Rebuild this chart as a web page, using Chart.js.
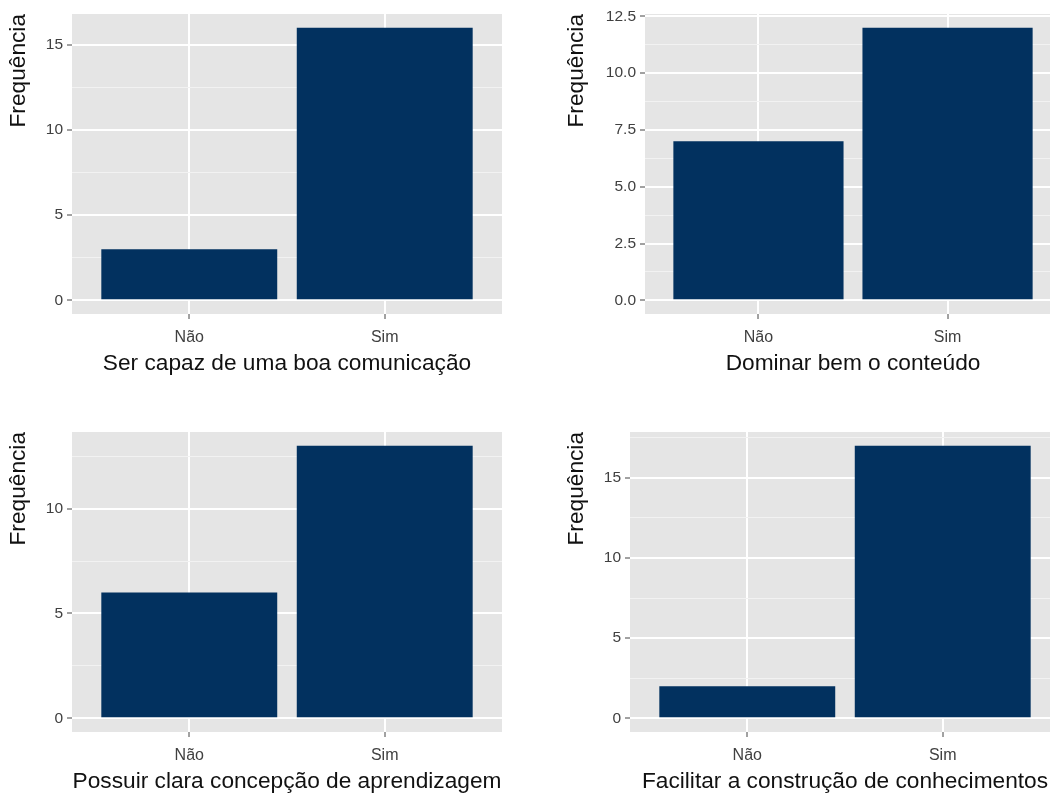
<!DOCTYPE html>
<html>
<head>
<meta charset="utf-8">
<script src="https://cdn.jsdelivr.net/npm/chart.js@4.4.0/dist/chart.umd.min.js"></script>
<style>
  html, body { margin: 0; padding: 0; background: #fff; overflow: hidden; width: 1050px; height: 794px; }
  canvas { position: absolute; }
</style>
</head>
<body>
<canvas id="c1" width="525" height="395" style="left:0px;top:0px"></canvas>
<canvas id="c2" width="525" height="395" style="left:558px;top:0px"></canvas>
<canvas id="c3" width="525" height="395" style="left:0px;top:418px"></canvas>
<canvas id="c4" width="525" height="395" style="left:558px;top:418px"></canvas>
<script>
const categorias = ['Não', 'Sim'];

const tituloComunicacao = 'Ser capaz de uma boa comunicação';
const tituloConteudo = 'Dominar bem o conteúdo';
const tituloConcepcao = 'Possuir clara concepção de aprendizagem';
const tituloConhecimentos = 'Facilitar a construção de conhecimentos';

const freqComunicacao = [3, 16];
const freqConteudo = [7, 12];
const freqConcepcao = [6, 13];
const freqConhecimentos = [2, 17];

const ticksComunicacao = [0, 5, 10, 15];
const ticksConteudo = [0, 2.5, 5, 7.5, 10, 12.5];
const ticksConcepcao = [0, 5, 10];
const ticksConhecimentos = [0, 5, 10, 15];

const fonte = "Arial, 'Liberation Sans', sans-serif";

// fundo cinza do painel (estilo ggplot)
const fundo = {
    id: 'fundo',
    beforeDraw(chart) {
        const {ctx, chartArea: a} = chart;
        ctx.save();
        ctx.fillStyle = '#e5e5e5';
        ctx.fillRect(a.left, a.top, a.right - a.left, a.bottom - a.top);
        ctx.restore();
    }
};

function painel(id, valores, ticks, titulo, larguraY, dirPad) {
    const maximo = Math.max(...valores);
    const yMin = -0.05 * maximo;
    const yMax = 1.05 * maximo;
    const passo = ticks[1] - ticks[0];
    const decimais = ticks.some(t => t % 1 !== 0) ? 1 : 0;

    // linhas secundarias no meio das principais
    let todos = ticks.map(t => ({value: t, minor: false}));
    for (let v = ticks[0] - passo / 2; v <= ticks[ticks.length - 1] + passo / 2; v += passo) {
        if (v > yMin && v < yMax) todos.push({value: v, minor: true});
    }
    todos.sort((a, b) => a.value - b.value);

    const pontos = valores.map((v, i) => ({x: i + 1, y: v}));

    new Chart(document.getElementById(id).getContext('2d'), {
        type: 'bar',
        data: {
            datasets: [{
                data: pontos,
                backgroundColor: '#02315f',
                borderWidth: 0,
                barPercentage: 0.9,
                categoryPercentage: 1.0
            }]
        },
        options: {
            responsive: false,
            animation: false,
            layout: { padding: { left: 0, top: 14, right: dirPad, bottom: 0 } },
            plugins: { legend: { display: false }, tooltip: { enabled: false } },
            scales: {
                x: {
                    type: 'linear',
                    min: 0.4,
                    max: 2.6,
                    offset: false,
                    bounds: 'data',
                    afterBuildTicks: s => { s.ticks = [{value: 1}, {value: 2}]; },
                    afterFit: s => { s.height = 81; },
                    grid: { offset: false, color: '#ffffff', lineWidth: 2, tickColor: '#444', tickWidth: 1, tickLength: 5 },
                    border: { display: false },
                    ticks: {
                        padding: 9,
                        color: '#404040',
                        font: { family: fonte, size: 16 },
                        maxRotation: 0,
                        callback: v => categorias[v - 1]
                    },
                    title: {
                        display: true,
                        text: titulo,
                        color: '#111',
                        font: { family: fonte, size: 22.7 },
                        padding: { top: 0, bottom: 18 }
                    }
                },
                y: {
                    type: 'linear',
                    min: yMin,
                    max: yMax,
                    bounds: 'data',
                    afterBuildTicks: s => { s.ticks = todos.map(t => ({value: t.value, minor: t.minor})); },
                    afterFit: s => { s.width = larguraY; },
                    grid: {
                        color: c => (c.tick && c.tick.minor) ? '#f2f2f2' : '#ffffff',
                        lineWidth: c => (c.tick && c.tick.minor) ? 1 : 2,
                        tickColor: c => (c.tick && c.tick.minor) ? 'rgba(0,0,0,0)' : '#444',
                        tickWidth: 1,
                        tickLength: 5
                    },
                    border: { display: false },
                    ticks: {
                        padding: 4,
                        color: '#404040',
                        font: { family: fonte, size: 15.5 },
                        callback: function (v, i, arr) {
                            if (arr[i].minor) return '';
                            return v.toFixed(decimais);
                        }
                    },
                    title: {
                        display: true,
                        text: 'Frequência',
                        align: 'end',
                        color: '#111',
                        font: { family: fonte, size: 22.7 },
                        padding: { top: 5, bottom: 0 }
                    }
                }
            }
        },
        plugins: [fundo]
    });
}

painel('c1', freqComunicacao, ticksComunicacao, tituloComunicacao, 72, 23);
painel('c2', freqConteudo, ticksConteudo, tituloConteudo, 87, 22);
painel('c3', freqConcepcao, ticksConcepcao, tituloConcepcao, 72, 23);
painel('c4', freqConhecimentos, ticksConhecimentos, tituloConhecimentos, 72, 23);
</script>
</body>
</html>
